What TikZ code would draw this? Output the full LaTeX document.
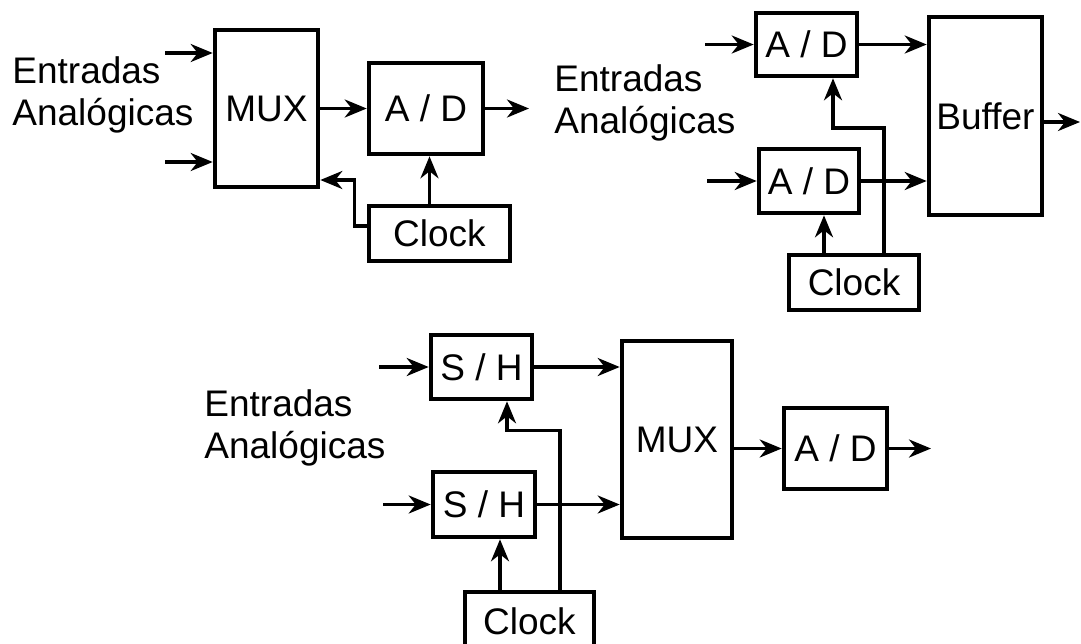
\documentclass[tikz,border=0pt]{standalone}
\usepackage{fontspec}
\setmainfont{Liberation Sans}
\usepackage{tikz}
\usetikzlibrary{arrows.meta, calc}
\newcommand{\blkfont}{\fontsize{18.5}{21}\selectfont}

\tikzset{
  blk/.style={draw, line width=2.3pt, inner sep=0pt, font=\blkfont},
  wire/.style={line width=1.7pt, ->},
  txt/.style={align=left, anchor=base west, inner sep=0pt, font=\blkfont}
}

\begin{document}
\begin{tikzpicture}[x=0.5pt, y=-0.5pt, >={Stealth[length=11pt, width=9pt, inset=3.5pt]}]
  \useasboundingbox (0,0) rectangle (1081,643);

  % top left: inputs -> MUX -> A/D
  \node[txt] (txtA) at (12,125) {Entradas\\Analógicas};
  \node[blk, minimum width=51.5pt, minimum height=78.5pt] (muxA) at (266.5,108.5) {MUX};
  \node[blk, minimum width=57pt, minimum height=45.5pt] (adA) at (426,108.5) {A / D};
  \node[blk, minimum width=70.5pt, minimum height=27.5pt] (clkA) at (439.5,233.5) {Clock};
  \foreach \y/\n in {53/1, 162/2} {
    \coordinate (inA\n) at (165,\y);
    \draw[wire] (inA\n) -- (inA\n -| muxA.west);
  }
  \coordinate (outA) at (529,108.5);
  \draw[wire] (muxA.east) -- (adA.west);
  \draw[wire] (adA.east) -- (outA);
  \draw[wire] ($(clkA.north)+(-10,0)$) coordinate (c) -- (c |- adA.south);
  \draw[wire] ($(clkA.west)+(0,-7.5)$) -| ($(muxA.east)+(34,71.5)$) -- ($(muxA.east)+(0,71.5)$);

  % top right: one A/D per input, then buffer
  \node[txt] (txtB) at (554,133) {Entradas\\Analógicas};
  \node[blk, minimum width=50.5pt, minimum height=31.5pt] (adB1) at (806.5,44.5) {A / D};
  \node[blk, minimum width=50pt, minimum height=32pt] (adB2) at (809,181) {A / D};
  \node[blk, minimum width=56.5pt, minimum height=99pt] (buf) at (985.5,116) {Buffer};
  \node[blk, minimum width=65pt, minimum height=27.5pt] (clkB) at (854,282.5) {Clock};
  \coordinate (inB1) at (705,44.5);
  \coordinate (inB2) at (707,181);
  \coordinate (outB) at (1080,122);
  \draw[wire] (inB1) -- (adB1.west);
  \draw[wire] (inB2) -- (adB2.west);
  \draw[wire] (adB1.east) -- (adB1.east -| buf.west);
  \draw[wire] (adB2.east) -- (adB2.east -| buf.west);
  \draw[wire] ($(buf.east)+(0,6)$) -- (outB);
  \draw[wire] ($(clkB.north)+(-30,0)$) coordinate (c) -- (c |- adB2.south);
  \draw[wire] ($(clkB.north)+(30,0)$) |- ($(adB1.south)+(26.5,49.5)$) -- ($(adB1.south)+(26.5,0)$);

  % bottom: S/H per input, then MUX -> A/D
  \node[txt] (txtC) at (204,458) {Entradas\\Analógicas};
  \node[blk, minimum width=50.5pt, minimum height=32pt] (shC1) at (481.5,367) {S / H};
  \node[blk, minimum width=51pt, minimum height=32.5pt] (shC2) at (484,504.5) {S / H};
  \node[blk, minimum width=55pt, minimum height=98.5pt] (muxC) at (677,439.5) {MUX};
  \node[blk, minimum width=51.5pt, minimum height=40.5pt] (adC) at (835.5,448.5) {A / D};
  \node[blk, minimum width=64.5pt, minimum height=29pt] (clkC) at (529.5,621) {Clock};
  \coordinate (inC1) at (379,367);
  \coordinate (inC2) at (383,504.5);
  \coordinate (outC) at (931,448.5);
  \draw[wire] (inC1) -- (shC1.west);
  \draw[wire] (inC2) -- (shC2.west);
  \draw[wire] (shC1.east) -- (shC1.east -| muxC.west);
  \draw[wire] (shC2.east) -- (shC2.east -| muxC.west);
  \draw[wire] (muxC.east |- adC.west) -- (adC.west);
  \draw[wire] (adC.east) -- (outC);
  \draw[wire] ($(clkC.north)+(-29.5,0)$) coordinate (c) -- (c |- shC2.south);
  \draw[wire] ($(clkC.north)+(30.5,0)$) |- ($(shC1.south)+(25.5,29)$) -- ($(shC1.south)+(25.5,0)$);
\end{tikzpicture}
\end{document}
